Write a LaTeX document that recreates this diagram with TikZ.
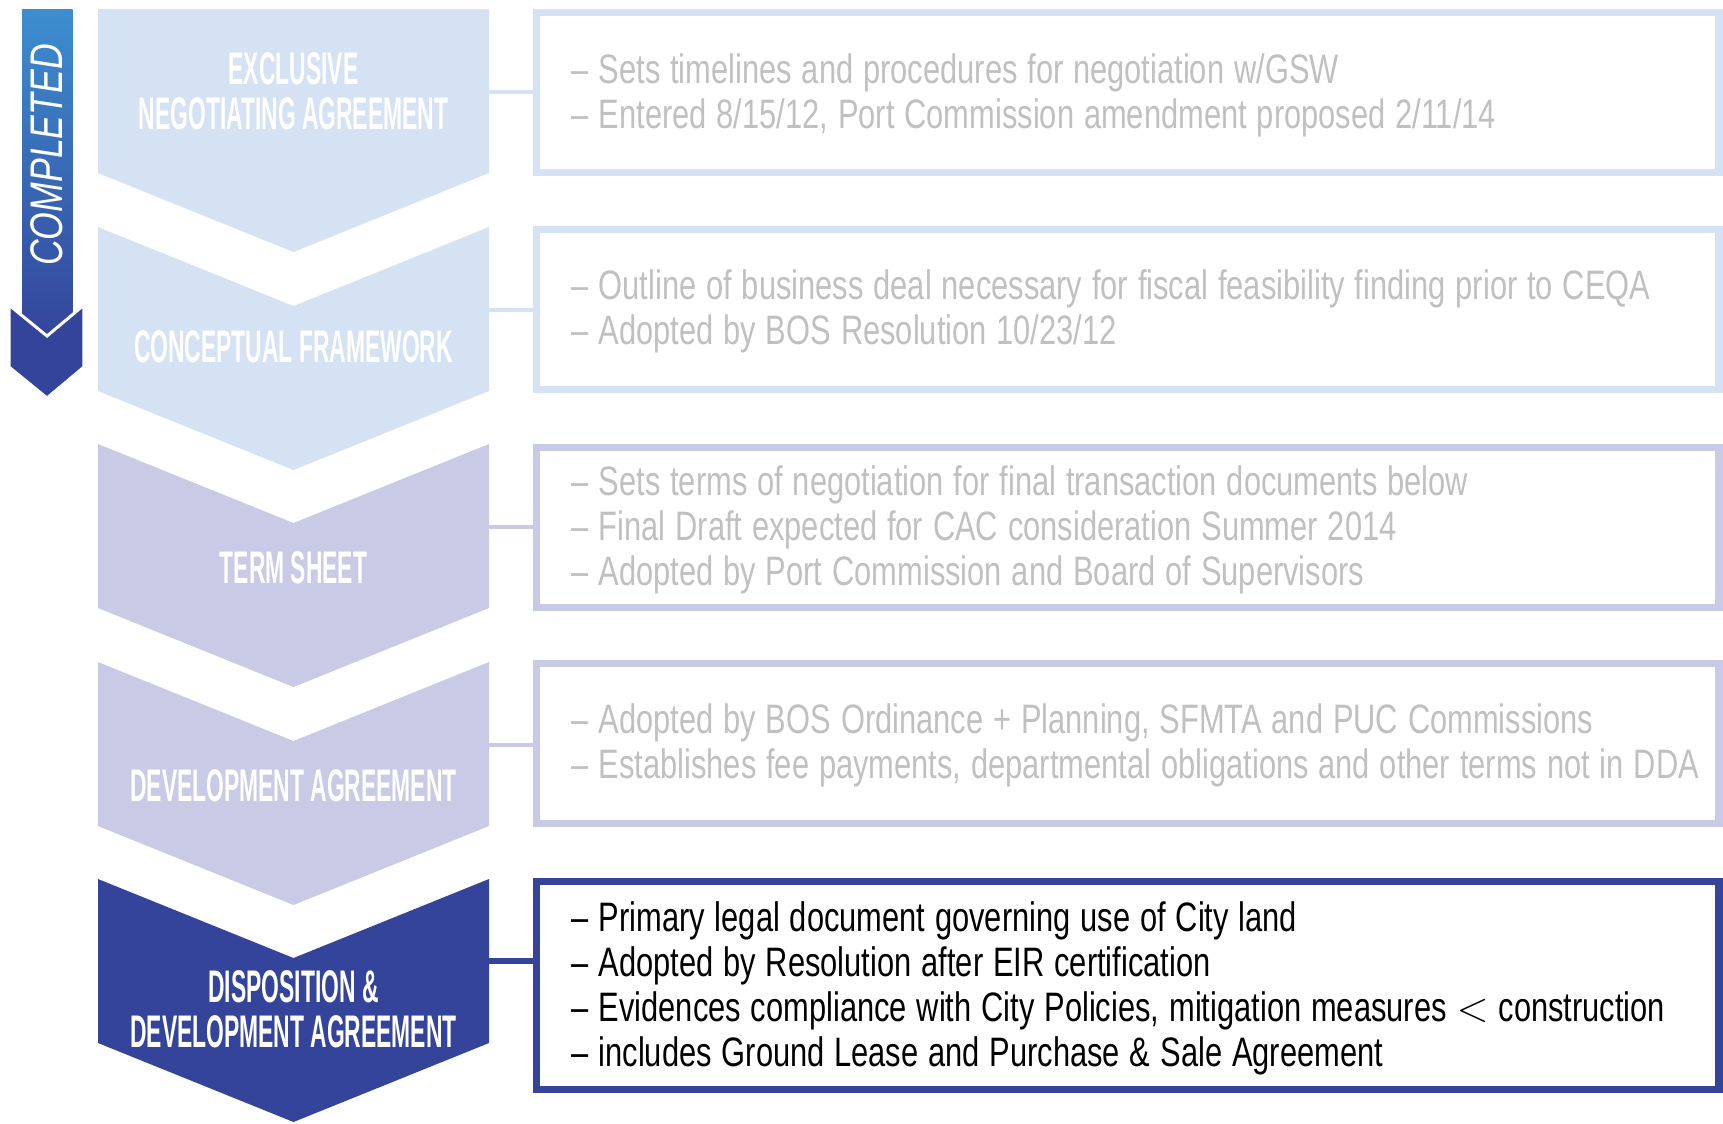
\documentclass[tikz,border=0pt]{standalone}
\usepackage{fontspec}
\setmainfont{Liberation Sans}
\newfontfamily\headfont{Liberation Sans}[FakeStretch=0.5]
\newfontfamily\bodyfont{Liberation Sans}[FakeStretch=0.75, WordSpace=1.15]
\newfontfamily\compfont{Liberation Sans}[FakeStretch=0.78]
\definecolor{paleblue}{RGB}{213,226,243}
\definecolor{lavender}{RGB}{201,202,229}
\definecolor{deepblue}{RGB}{52,68,154}
\definecolor{arrowtop}{RGB}{61,142,208}
\definecolor{softgray}{RGB}{192,192,192}
\tikzset{
  chevlabel/.style={text=white, align=center, inner sep=0pt,
    font=\headfont\bfseries\fontsize{13}{12.8}\selectfont},
  infobox/.style={draw, line width=0.075cm, minimum width=11.815cm},
  boxtext/.style={anchor=west, align=left, inner sep=0pt,
    font=\bodyfont\fontsize{11.7}{12.8}\selectfont},
  link/.style={line width=0.04cm}
}
\begin{document}
\begin{tikzpicture}[x=0.01cm,y=-0.01cm]
\useasboundingbox (0,0) rectangle (1723,1123);

% completed arrow
\shade[top color=arrowtop, bottom color=deepblue] (22,9) rectangle (72.5,340);
\filldraw[fill=deepblue, draw=white, line width=0.03cm]
  (9,305) -- (47,336) -- (84,305) -- (84,367) -- (47,398) -- (9,367) -- cycle;
\node[text=white, rotate=90, font=\compfont\itshape\fontsize{13}{13}\selectfont] (done) at (47,155) {COMPLETED};

% chevrons
\fill[paleblue] (98,9) -- (489,9) -- (489,173) -- (293.5,252) -- (98,173) -- cycle;
\fill[paleblue] (98,227) -- (293.5,306) -- (489,227) -- (489,391) -- (293.5,470) -- (98,391) -- cycle;
\fill[lavender] (98,444) -- (293.5,523) -- (489,444) -- (489,608) -- (293.5,687) -- (98,608) -- cycle;
\fill[lavender] (98,662) -- (293.5,741) -- (489,662) -- (489,826) -- (293.5,905) -- (98,826) -- cycle;
\fill[deepblue] (98,879) -- (293.5,958) -- (489,879) -- (489,1043) -- (293.5,1122) -- (98,1043) -- cycle;

\node[chevlabel] (ena) at (293.5,91) {EXCLUSIVE\\NEGOTIATING AGREEMENT};
\node[chevlabel] (cf) at (293.5,347) {CONCEPTUAL FRAMEWORK};
\node[chevlabel] (ts) at (293.5,568) {TERM SHEET};
\node[chevlabel] (da) at (293.5,786) {DEVELOPMENT AGREEMENT};
\node[chevlabel] (dda) at (293.5,1009) {DISPOSITION \&\\DEVELOPMENT AGREEMENT};

% boxes
\node[infobox, draw=paleblue, minimum height=1.595cm] (b1) at (1127.75,92.5) {};
\node[infobox, draw=paleblue, minimum height=1.595cm] (b2) at (1127.75,309.5) {};
\node[infobox, draw=lavender, minimum height=1.595cm] (b3) at (1127.75,527.5) {};
\node[infobox, draw=lavender, minimum height=1.595cm] (b4) at (1127.75,743.5) {};
\node[infobox, draw=deepblue, minimum height=2.075cm] (b5) at (1127.75,985.5) {};

\node[boxtext, text=softgray] (t1) at (571,95)
  {– Sets timelines and procedures for negotiation w/GSW\\
   – Entered 8/15/12, Port Commission amendment proposed 2/11/14};
\node[boxtext, text=softgray] (t2) at (571,311)
  {– Outline of business deal necessary for fiscal feasibility finding prior to CEQA\\
   – Adopted by BOS Resolution 10/23/12};
\node[boxtext, text=softgray] (t3) at (571,530)
  {– Sets terms of negotiation for final transaction documents below\\
   – Final Draft expected for CAC consideration Summer 2014\\
   – Adopted by Port Commission and Board of Supervisors};
\node[boxtext, text=softgray] (t4) at (571,745)
  {– Adopted by BOS Ordinance + Planning, SFMTA and PUC Commissions\\
   – Establishes fee payments, departmental obligations and other terms not in DDA};
\node[boxtext, text=black] (t5) at (571,988.5)
  {– Primary legal document governing use of City land\\
   – Adopted by Resolution after EIR certification\\
   – Evidences compliance with City Policies, mitigation measures $<$ construction\\
   – includes Ground Lease and Purchase \& Sale Agreement};

% links
\coordinate (e1) at (489,92);
\coordinate (e2) at (489,310);
\coordinate (e3) at (489,527);
\coordinate (e4) at (489,745);
\coordinate (e5) at (489,961);
\draw[link, paleblue] (e1) -- (e1 -| b1.west);
\draw[link, paleblue] (e2) -- (e2 -| b2.west);
\draw[link, lavender] (e3) -- (e3 -| b3.west);
\draw[link, lavender] (e4) -- (e4 -| b4.west);
\draw[link, deepblue, line width=0.06cm] (e5) -- (e5 -| b5.west);
\end{tikzpicture}
\end{document}
